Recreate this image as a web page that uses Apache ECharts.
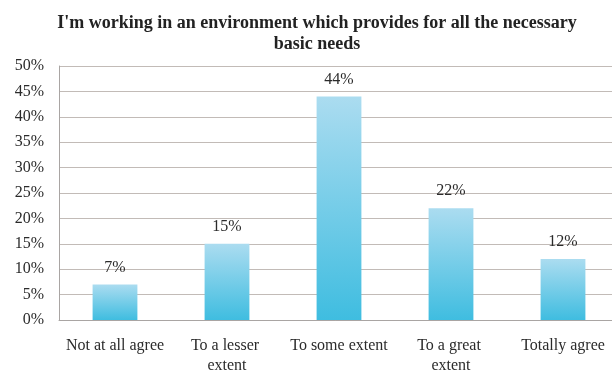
<!DOCTYPE html>
<html>
<head>
<meta charset="utf-8">
<script src="https://cdn.jsdelivr.net/npm/echarts@6/dist/echarts.min.js"></script>
<style>
  html, body { margin: 0; padding: 0; background: #fff; }
  #chart { width: 612px; height: 374px; }
</style>
</head>
<body>
<div id="chart"></div>
<script>
// Survey responses: share of respondents per answer
const categories = ['Not at all agree', 'To a lesser extent', 'To some extent', 'To a great extent', 'Totally agree'];
const shares = [7, 15, 44, 22, 12];
const yTicks = { min: 0, max: 50, step: 5 };

const serif = '"Liberation Serif", "DejaVu Serif", serif';
const chart = echarts.init(document.getElementById('chart'));

chart.setOption({
  backgroundColor: '#ffffff',
  animation: false,
  title: {
    text: "I'm working in an environment which provides for all the necessary\nbasic needs",
    left: 312,
    top: 8,
    textAlign: 'center',
    textStyle: {
      fontFamily: serif,
      fontWeight: 'bold',
      fontSize: 18,
      lineHeight: 21,
      color: '#222'
    }
  },
  grid: { left: 59, right: -7, top: 66, bottom: 54, outerBoundsMode: 'none', containLabel: false },
  xAxis: {
    type: 'category',
    data: categories,
    axisLine: { lineStyle: { color: '#a9a5a3', width: 1 } },
    axisTick: { show: false },
    axisLabel: {
      fontFamily: serif,
      fontSize: 16,
      color: '#2b2b2b',
      margin: 16,
      lineHeight: 20,
      width: 102,
      overflow: 'break',
      interval: 0
    }
  },
  yAxis: {
    type: 'value',
    min: yTicks.min,
    max: yTicks.max,
    interval: yTicks.step,
    axisLine: { show: true, lineStyle: { color: '#a9a5a3', width: 1 } },
    axisTick: { show: false },
    axisLabel: {
      fontFamily: serif,
      fontSize: 16,
      color: '#2b2b2b',
      margin: 15,
      formatter: v => v + '%'
    },
    splitLine: { lineStyle: { color: '#c2bbb7', width: 1 } }
  },
  series: [{
    type: 'bar',
    data: shares,
    barWidth: '40%',
    itemStyle: {
      color: new echarts.graphic.LinearGradient(0, 0, 0, 1, [
        { offset: 0, color: '#abdcf0' },
        { offset: 1, color: '#3fbde0' }
      ])
    },
    label: {
      show: true,
      position: 'top',
      distance: 9,
      fontFamily: serif,
      fontSize: 16,
      color: '#2b2b2b',
      formatter: p => p.value + '%'
    }
  }]
});
</script>
</body>
</html>
